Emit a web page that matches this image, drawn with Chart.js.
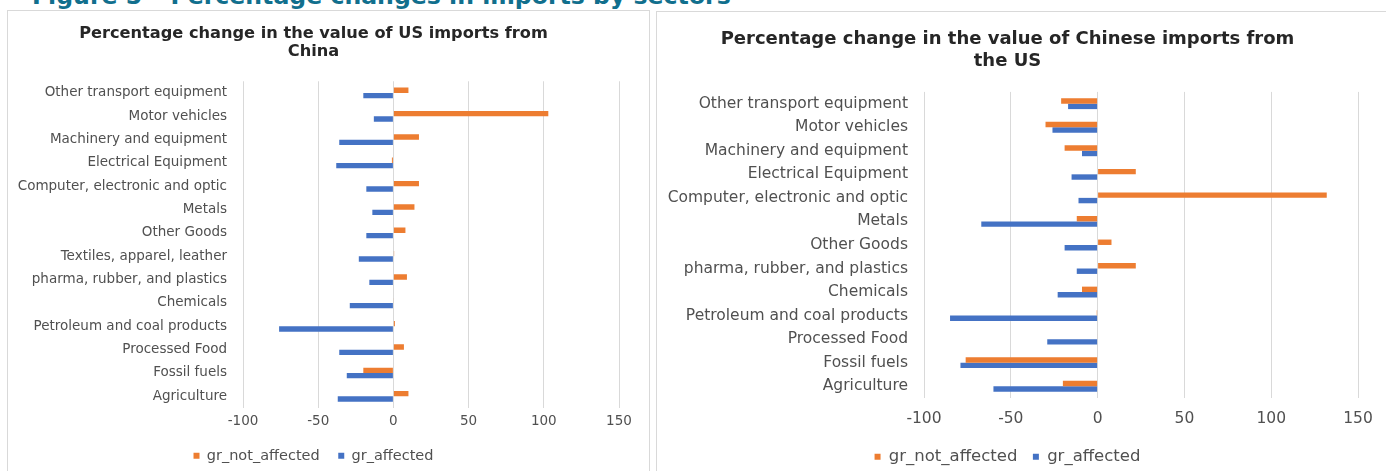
<!DOCTYPE html>
<html>
<head>
<meta charset="utf-8">
<script src="https://cdn.jsdelivr.net/npm/chart.js@4.4.1/dist/chart.umd.min.js"></script>
<style>
  html, body { margin: 0; padding: 0; background: #fff; overflow: hidden; }
  body { width: 1386px; height: 471px; position: relative; font-family: "DejaVu Sans", Verdana, sans-serif; }
  #fig-title { position: absolute; left: 32px; top: -16px; font-size: 23.6px; line-height: 24px; font-weight: bold; color: #116f8d; white-space: nowrap; }
  .panel { position: absolute; border: 1px solid #d9d9d9; background: #fff; box-sizing: border-box; }
  #panel-us { left: 7px; top: 10px; width: 643px; height: 480px; }
  #panel-cn { left: 656px; top: 11px; width: 740px; height: 480px; }
  canvas { position: absolute; left: 0; top: 0; }
</style>
</head>
<body>
<div id="fig-title">Figure 5 – Percentage changes in imports by sectors</div>
<div class="panel" id="panel-us"><canvas id="chartUS" width="641" height="462"></canvas></div>
<div class="panel" id="panel-cn"><canvas id="chartCN" width="729" height="463"></canvas></div>
<script>
// --- DATI: importazioni USA dalla Cina ---
const settoriUS = [
    "Other transport equipment", "Motor vehicles", "Machinery and equipment",
    "Electrical Equipment", "Computer, electronic and optic", "Metals",
    "Other Goods", "Textiles, apparel, leather", "pharma, rubber, and plastics",
    "Chemicals", "Petroleum and coal products", "Processed Food",
    "Fossil fuels", "Agriculture"
];
const usNotAffected = [10, 103, 17, -1, 17, 14, 8, 0.5, 9, 0.3, 1, 7, -20, 10];
const usAffected = [-20, -13, -36, -38, -18, -14, -18, -23, -16, -29, -76, -36, -31, -37];

// --- DATI: importazioni cinesi dagli USA ---
const settoriCN = [
    "Other transport equipment", "Motor vehicles", "Machinery and equipment",
    "Electrical Equipment", "Computer, electronic and optic", "Metals",
    "Other Goods", "pharma, rubber, and plastics", "Chemicals",
    "Petroleum and coal products", "Processed Food", "Fossil fuels", "Agriculture"
];
const cnNotAffected = [-21, -30, -19, 22, 132, -12, 8, 22, -9, -0.5, -0.3, -76, -20];
const cnAffected = [-17, -26, -9, -15, -11, -67, -19, -12, -23, -85, -29, -79, -60];

// --- ASSE X ---
const xMin = -100;
const xMax = 150;
const xStep = 50;

const ARANCIO = '#ED7D31';
const BLU = '#4472C4';
const GRIGIO_TESTO = '#505050';

function creaGrafico(idCanvas, cfg) {
    const ctx = document.getElementById(idCanvas).getContext('2d');
    return new Chart(ctx, {
        type: 'bar',
        data: {
            labels: cfg.labels,
            datasets: [
                { label: 'gr_not_affected', data: cfg.notAffected, backgroundColor: ARANCIO, borderWidth: 0 },
                { label: 'gr_affected', data: cfg.affected, backgroundColor: BLU, borderWidth: 0 }
            ]
        },
        options: {
            indexAxis: 'y',
            responsive: false,
            animation: false,
            datasets: { bar: { categoryPercentage: 0.46, barPercentage: 1.0 } },
            layout: { padding: { top: cfg.padTop, right: cfg.padRight, bottom: 0, left: 0 } },
            scales: {
                x: {
                    min: xMin, max: xMax,
                    ticks: { stepSize: xStep, color: GRIGIO_TESTO, padding: cfg.tickPad, font: { family: 'DejaVu Sans', size: cfg.fontSize } },
                    grid: { color: '#d9d9d9', drawTicks: false },
                    border: { display: false },
                    // altezza fissa dell'asse per posizionare l'area del grafico
                    afterFit: (scala) => { scala.height = cfg.xHeight; }
                },
                y: {
                    ticks: { color: GRIGIO_TESTO, padding: 8, font: { family: 'DejaVu Sans', size: cfg.fontSize } },
                    grid: { display: false },
                    border: { display: false },
                    afterFit: (scala) => { scala.width = cfg.yWidth; }
                }
            },
            plugins: {
                title: {
                    display: true,
                    text: cfg.title,
                    color: '#262626',
                    font: { family: 'DejaVu Sans', size: cfg.titleSize, weight: 'bold', lineHeight: cfg.titleLH },
                    padding: { top: 0, bottom: cfg.titlePadBottom }
                },
                legend: {
                    position: 'bottom',
                    labels: {
                        color: GRIGIO_TESTO,
                        boxWidth: 6, boxHeight: 6,
                        padding: cfg.legendPad,
                        font: { family: 'DejaVu Sans', size: cfg.legendSize }
                    }
                },
                tooltip: { enabled: false }
            }
        }
    });
}

creaGrafico('chartUS', {
    labels: settoriUS, notAffected: usNotAffected, affected: usAffected,
    title: ['Percentage change in the value of US imports from', 'China'],
    titleSize: 16.2, titleLH: 1.12, titlePadBottom: 20,
    fontSize: 13.5, legendSize: 14.5, tickPad: 5, legendPad: 18.5, xHeight: 22,
    padTop: 14, padRight: 30, yWidth: 235
});

creaGrafico('chartCN', {
    labels: settoriCN, notAffected: cnNotAffected, affected: cnAffected,
    title: ['Percentage change in the value of Chinese imports from', 'the US'],
    titleSize: 18, titleLH: 1.22, titlePadBottom: 20,
    fontSize: 15.5, legendSize: 16.5, tickPad: 12, legendPad: 15.5, xHeight: 35,
    padTop: 16, padRight: 28, yWidth: 267
});
</script>
</body>
</html>
